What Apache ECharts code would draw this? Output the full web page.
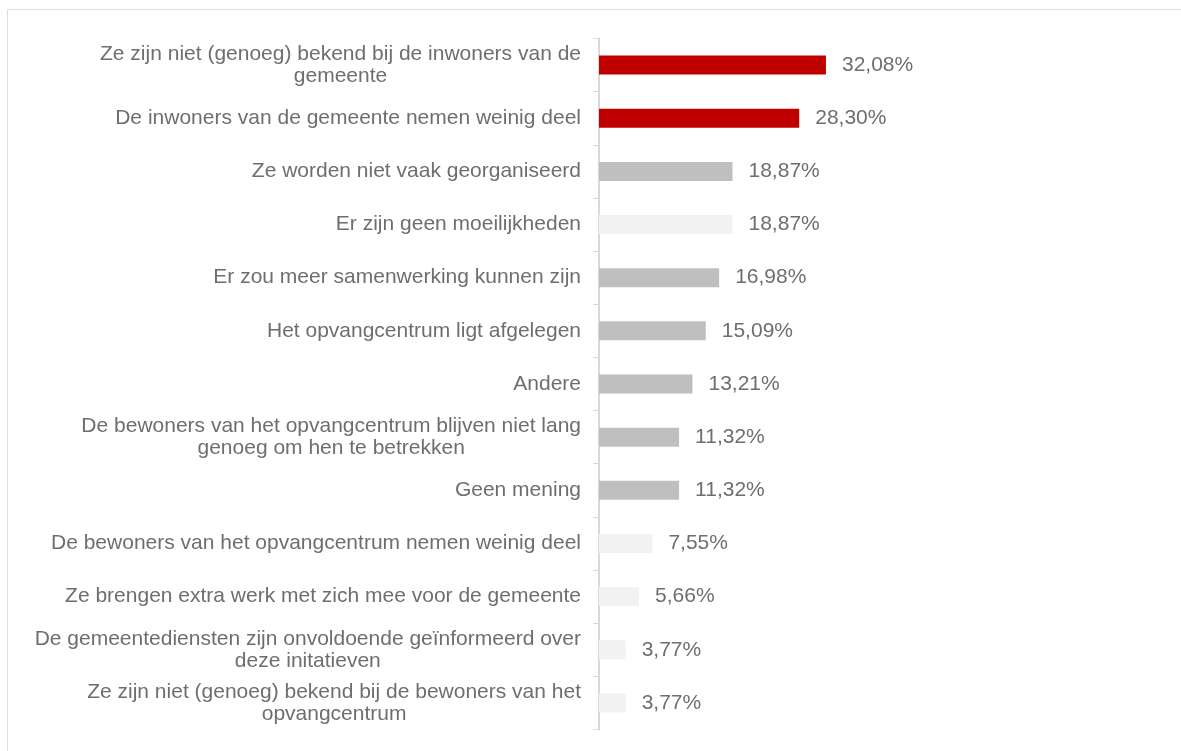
<!DOCTYPE html>
<html>
<head>
<meta charset="utf-8">
<script src="https://cdn.jsdelivr.net/npm/echarts@6/dist/echarts.min.js"></script>
<style>
  html, body { margin: 0; padding: 0; background: #fff; }
  #chart { width: 1181px; height: 751px; }
</style>
</head>
<body>
<div id="chart"></div>
<script>
// categories (top to bottom), line breaks as in the original slide
const categories = [
  'Ze zijn niet (genoeg) bekend bij de inwoners van de\ngemeente',
  'De inwoners van de gemeente nemen weinig deel',
  'Ze worden niet vaak georganiseerd',
  'Er zijn geen moeilijkheden',
  'Er zou meer samenwerking kunnen zijn',
  'Het opvangcentrum ligt afgelegen',
  'Andere',
  'De bewoners van het opvangcentrum blijven niet lang\ngenoeg om hen te betrekken',
  'Geen mening',
  'De bewoners van het opvangcentrum nemen weinig deel',
  'Ze brengen extra werk met zich mee voor de gemeente',
  'De gemeentediensten zijn onvoldoende geïnformeerd over\ndeze initatieven',
  'Ze zijn niet (genoeg) bekend bij de bewoners van het\nopvangcentrum'
]
const values = [32.08, 28.30, 18.87, 18.87, 16.98, 15.09, 13.21, 11.32, 11.32, 7.55, 5.66, 3.77, 3.77]
// r = highlighted, g = grey, l = light grey
const colorKeys = ['r', 'r', 'g', 'l', 'g', 'g', 'g', 'g', 'g', 'l', 'l', 'l', 'l']

const palette = { r: '#C00000', g: '#BFBFBF', l: '#F2F2F2' }
const textColor = '#6e6e6e'
const font = '"Liberation Sans", Arial, sans-serif'

const chart = echarts.init(document.getElementById('chart'))
chart.setOption({
  animation: false,
  graphic: [{
    type: 'rect',
    shape: { x: 7.5, y: 9.5, width: 1300, height: 900 },
    style: { fill: 'none', stroke: '#dedede', lineWidth: 1 },
    silent: true
  }],
  grid: { left: 599, top: 38.5, width: 566, bottom: 21.5 },
  xAxis: {
    type: 'value', min: 0, max: 80,
    show: false
  },
  yAxis: {
    type: 'category',
    inverse: true,
    data: categories,
    axisLine: { lineStyle: { color: '#d9d9d9', width: 2 } },
    axisTick: { show: true, length: 6, lineStyle: { color: '#d9d9d9', width: 1 } },
    axisLabel: {
      margin: 18,
      formatter: v => v.split('\n').map(l => '{c|' + l + '}').join('\n'),
      rich: {
        c: { align: 'center', fontSize: 21, lineHeight: 22, color: textColor, fontFamily: font }
      }
    }
  },
  series: [{
    type: 'bar',
    barWidth: 19,
    data: values.map((v, i) => ({ value: v, itemStyle: { color: palette[colorKeys[i]] } })),
    label: {
      show: true,
      position: 'right',
      distance: 16,
      fontSize: 21,
      color: textColor,
      fontFamily: font,
      formatter: p => p.value.toFixed(2).replace('.', ',') + '%'
    }
  }]
})
</script>
</body>
</html>
